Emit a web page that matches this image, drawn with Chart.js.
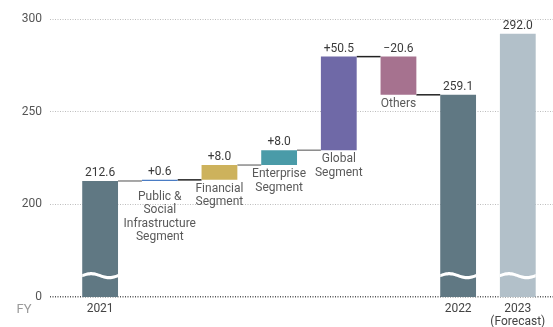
<!DOCTYPE html>
<html>
<head>
<meta charset="utf-8">
<script src="https://cdn.jsdelivr.net/npm/chart.js@4"></script>
<style>
  html, body { margin: 0; padding: 0; background: #fff; }
  #wrap { width: 553px; height: 327px; }
</style>
</head>
<body>
<div id="wrap"><canvas id="c"></canvas></div>
<script>
// Revenue bridge, FY2021 -> FY2022, plus FY2023 forecast
const CATEGORIES = ['2021', 'Public & Social Infrastructure Segment', 'Financial Segment',
  'Enterprise Segment', 'Global Segment', 'Others', '2022', '2023 (Forecast)'];
const START_TOTAL = 212.6;
const SEGMENT_DELTAS = [0.6, 8.0, 8.0, 50.5, -20.6];
const END_TOTAL = 259.1;
const FORECAST_TOTAL = 292.0;

const BAR_COLORS = ['#607883', '#4a7cc4', '#cdb25c', '#4a9ba8', '#6f69a7', '#a6728f', '#607883', '#b2c0c9'];
const CONNECTOR_COLORS = ['#8a8a8a', '#222222', '#8a8a8a', '#8a8a8a', '#222222', '#222222'];

// Name shown under each segment bar
const SEGMENT_NAMES = [null, ['Public &', 'Social', 'Infrastructure', 'Segment'], ['Financial', 'Segment'],
  ['Enterprise', 'Segment'], ['Global', 'Segment'], ['Others'], null, null];
const X_LABELS = ['2021', '', '', '', '', '', '2022', ['2023', '(Forecast)']];
const X_TICK_INDEXES = [0, 6, 7];

// The value axis is broken: everything below BROKEN_BASE is cut away and the base is shown as 0
const BROKEN_BASE = 150;
const Y_MAX = 300;
const Y_STEP = 50;

// Floating bar ranges for the waterfall
const ranges = [];
ranges.push([BROKEN_BASE, START_TOTAL]);
let level = START_TOTAL;
SEGMENT_DELTAS.forEach(d => {
  const next = Math.round((level + d) * 10) / 10;
  ranges.push([level, next]);
  level = next;
});
ranges.push([BROKEN_BASE, END_TOTAL]);
ranges.push([BROKEN_BASE, FORECAST_TOTAL]);

const valueTexts = [START_TOTAL.toFixed(1)]
  .concat(SEGMENT_DELTAS.map(d => (d >= 0 ? '+' : '\u2212') + Math.abs(d).toFixed(1)))
  .concat([END_TOTAL.toFixed(1), FORECAST_TOTAL.toFixed(1)]);

const BAR_SHARE = 0.6;
const HALF = BAR_SHARE / 2;

// Connector lines from the top of one step to the next bar
const connectorData = [];
for (let i = 0; i < ranges.length - 2; i++) {
  const lvl = ranges[i][1];
  connectorData.push({ x: i + HALF, y: lvl }, { x: i + 1 - HALF, y: lvl }, { x: i + 1, y: null });
}

const FONT = 'Roboto, "Liberation Sans", sans-serif';
Chart.defaults.font.family = FONT;
Chart.defaults.font.size = 12;

const labelPlugin = {
  id: 'bridgeLabels',
  afterDatasetsDraw(chart) {
    const ctx = chart.ctx;
    const meta = chart.getDatasetMeta(0);
    const y = chart.scales.y;
    ctx.save();
    meta.data.forEach((el, i) => {
      const top = Math.min(el.y, el.base);
      const bottom = Math.max(el.y, el.base);
      const isTotal = ranges[i][0] === BROKEN_BASE;
      // break mark across total bars
      if (isTotal) {
        const half = el.width / 2;
        const cy = y.getPixelForValue(BROKEN_BASE + 11.5);
        const amp = 2, thick = 3.2, n = 30;
        ctx.beginPath();
        for (let k = 0; k <= n; k++) {
          const t = k / n;
          const px = el.x - half + t * el.width;
          const py = cy - thick / 2 - amp * Math.sin(2 * Math.PI * t);
          k === 0 ? ctx.moveTo(px, py) : ctx.lineTo(px, py);
        }
        for (let k = n; k >= 0; k--) {
          const t = k / n;
          const px = el.x - half + t * el.width;
          const py = cy + thick / 2 - amp * Math.sin(2 * Math.PI * t);
          ctx.lineTo(px, py);
        }
        ctx.closePath();
        ctx.fillStyle = '#ffffff';
        ctx.fill();
      }
      // value text above the bar
      ctx.font = '12px ' + FONT;
      ctx.fillStyle = '#3a3a3a';
      ctx.textAlign = 'center';
      ctx.textBaseline = 'alphabetic';
      ctx.fillText(valueTexts[i], el.x, top - 5);
      // segment name under the bar
      const names = SEGMENT_NAMES[i];
      if (names) {
        ctx.fillStyle = '#5a5a5a';
        ctx.textBaseline = 'top';
        const gap = i === 1 ? 10 : 3;
        names.forEach((line, j) => ctx.fillText(line, el.x, bottom + gap + j * 13.5));
      }
    });
    // fiscal-year caption left of the category axis
    ctx.font = '13px ' + FONT;
    ctx.fillStyle = '#9a9a9a';
    ctx.textAlign = 'center';
    ctx.textBaseline = 'middle';
    ctx.fillText('FY', 24, chart.scales.x.top + 13);
    ctx.restore();
  }
};

new Chart(document.getElementById('c'), {
  data: {
    datasets: [
      {
        type: 'bar',
        data: ranges.map((r, i) => ({ x: i, y: r })),
        backgroundColor: BAR_COLORS,
        borderWidth: 0,
        categoryPercentage: 1,
        barPercentage: BAR_SHARE,
        order: 1
      },
      {
        type: 'line',
        data: connectorData,
        borderWidth: 1.5,
        pointRadius: 0,
        spanGaps: false,
        borderColor: '#222',
        segment: { borderColor: c => CONNECTOR_COLORS[Math.floor(c.p0DataIndex / 3)] },
        order: 2
      }
    ]
  },
  options: {
    responsive: true,
    maintainAspectRatio: false,
    animation: false,
    layout: { padding: { top: 19, right: 0, left: 0, bottom: 0 } },
    plugins: { legend: { display: false }, tooltip: { enabled: false } },
    scales: {
      x: {
        type: 'linear',
        offset: false,
        min: -0.84,
        max: 7.59,
        grid: { display: false, drawTicks: false },
        border: { display: false },
        afterBuildTicks: s => { s.ticks = X_TICK_INDEXES.map(v => ({ value: v })); },
        afterFit: s => { s.height = 30; },
        ticks: {
          autoSkip: false,
          maxRotation: 0,
          padding: 6,
          color: '#444444',
          font: { size: 12, lineHeight: 1.05 },
          callback: v => X_LABELS[v]
        }
      },
      y: {
        type: 'linear',
        min: BROKEN_BASE,
        max: Y_MAX,
        afterFit: s => { s.width = 50; },
        border: { display: false, dash: [1, 1.5] },
        grid: {
          drawTicks: false,
          color: c => c.tick && c.tick.value === BROKEN_BASE ? '#555555' : '#bdbdbd',
          lineWidth: c => c.tick && c.tick.value === BROKEN_BASE ? 1.6 : 1
        },
        ticks: {
          stepSize: Y_STEP,
          padding: 8,
          color: '#555555',
          font: { size: 12 },
          callback: v => v === BROKEN_BASE ? '0' : String(v)
        }
      }
    }
  },
  plugins: [labelPlugin]
});
</script>
</body>
</html>
